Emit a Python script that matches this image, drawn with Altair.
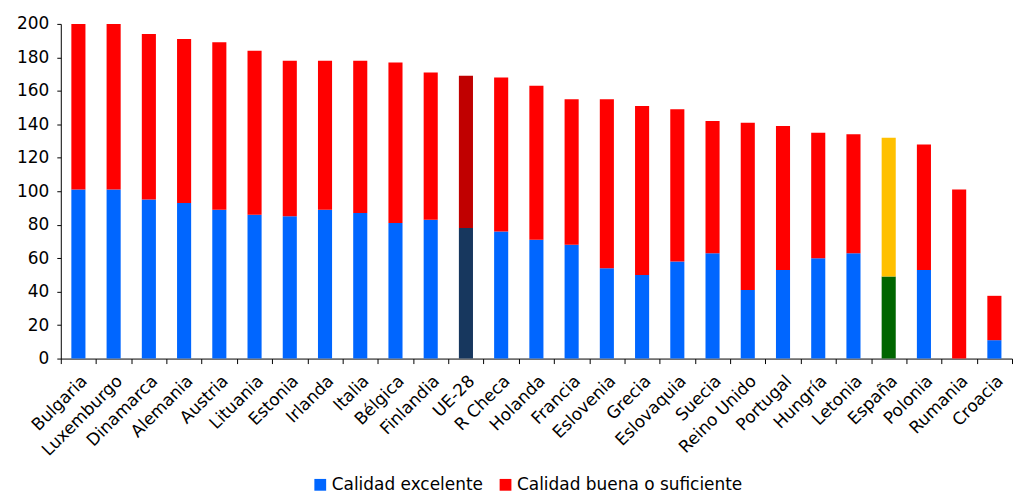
import altair as alt
import pandas as pd

paises = ["Bulgaria", "Luxemburgo", "Dinamarca", "Alemania", "Austria", "Lituania",
          "Estonia", "Irlanda", "Italia", "Bélgica", "Finlandia", "UE-28", "R Checa",
          "Holanda", "Francia", "Eslovenia", "Grecia", "Eslovaquia", "Suecia",
          "Reino Unido", "Portugal", "Hungría", "Letonia", "España", "Polonia",
          "Rumania", "Croacia"]

excelente = [101, 101, 95, 93, 89, 86, 85, 89, 87, 81, 83, 78, 76, 71, 68, 54, 50,
             58, 63, 41, 53, 60, 63, 49, 53, 0, 11]
buena = [99, 99, 99, 98, 100, 98, 93, 89, 91, 96, 88, 91, 92, 92, 87, 101, 101,
         91, 79, 100, 86, 75, 71, 83, 75, 101, 26.5]

series = ["Calidad excelente", "Calidad buena o suficiente"]
claves = ["Calidad excelente", "Calidad buena o suficiente",
          "UE-28 excelente", "UE-28 buena", "España excelente", "España buena"]
colores = ["#0066FF", "#FF0000", "#17375E", "#C00000", "#006600", "#FFC000"]

rows = []
for i, p in enumerate(paises):
    for k, (s, vals) in enumerate(zip(series, [excelente, buena])):
        clave = s
        if p == "UE-28":
            clave = claves[2 + k]
        elif p == "España":
            clave = claves[4 + k]
        rows.append({"pais": p, "serie": s, "valor": vals[i], "clave": clave, "orden": k})
df = pd.DataFrame(rows)

font = "DejaVu Sans"

chart = alt.Chart(df).mark_bar(width=alt.RelativeBandSize(0.4)).encode(
    x=alt.X("pais:N", sort=paises, title=None,
            scale=alt.Scale(paddingInner=0, paddingOuter=0),
            axis=alt.Axis(labelAngle=-45, tickBand="extent", labelFontSize=17,
                          labelFont=font, labelColor="#000000", domainColor="#000000",
                          tickColor="#000000", tickSize=5, labelPadding=9,
                          labelOverlap=False)),
    y=alt.Y("valor:Q", stack="zero", title=None,
            scale=alt.Scale(domain=[0, 200]),
            axis=alt.Axis(values=list(range(0, 201, 20)), grid=False, labelFontSize=17,
                          labelFont=font, labelColor="#000000", domainColor="#000000",
                          tickColor="#000000", tickSize=4, labelPadding=8)),
    color=alt.Color("clave:N",
                    scale=alt.Scale(domain=claves, range=colores),
                    legend=alt.Legend(values=series, title=None, orient="none",
                                      legendX=252, legendY=454, direction="horizontal",
                                      symbolType="square", symbolSize=140,
                                      symbolStrokeWidth=0, labelFontSize=17,
                                      labelFont=font, labelColor="#000000",
                                      labelLimit=0, columnPadding=14, labelOffset=3)),
    order=alt.Order("orden:Q"),
).properties(
    width=955, height=336,
    padding={"left": 8, "top": 6, "right": 0, "bottom": 0},
).configure_view(stroke=None)

chart.save("out.html", embed_options={"renderer": "svg", "actions": False})
